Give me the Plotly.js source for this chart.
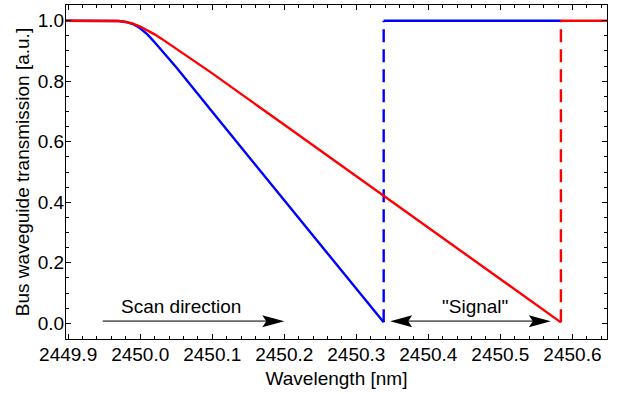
<!DOCTYPE html>
<html>
<head>
<meta charset="utf-8">
<script src="https://cdn.plot.ly/plotly-3.0.1.min.js"></script>
<style>html,body{margin:0;padding:0;background:#fff;}#chart{width:624px;height:394px;}</style>
</head>
<body>
<div id="chart"></div>
<script>
// Blue: scan curve (forward scan), drop then jump back
const blueX = [2449.897, 2449.96, 2449.97, 2449.98, 2449.99, 2450.00, 2450.01, 2450.02, 2450.03, 2450.04, 2450.05, 2450.10, 2450.20, 2450.30, 2450.338];
const blueY = [1.000, 1.000, 0.999, 0.996, 0.989, 0.975, 0.955, 0.929, 0.902, 0.874, 0.846, 0.699, 0.405, 0.112, 0.003];
const blueJumpX = [2450.338, 2450.338];
const blueJumpY = [0.003, 1.000];
const blueFlatX = [2450.338, 2450.584];
const blueFlatY = [1.000, 1.000];

// Red: scan curve
const redX = [2449.897, 2449.96, 2449.97, 2449.98, 2449.99, 2450.00, 2450.01, 2450.02, 2450.03, 2450.04, 2450.05, 2450.10, 2450.20, 2450.30, 2450.40, 2450.50, 2450.584];
const redY = [1.000, 1.000, 0.999, 0.996, 0.990, 0.981, 0.969, 0.955, 0.940, 0.924, 0.908, 0.826, 0.656, 0.486, 0.316, 0.147, 0.003];
const redJumpX = [2450.584, 2450.584];
const redJumpY = [0.003, 1.000];
const redFlatX = [2450.584, 2450.648];
const redFlatY = [1.000, 1.000];

// Annotations
const labelTexts = ['Scan direction', '"Signal"'];
const labelX = [2450.057, 2450.465];
const labelY = [0.055, 0.055];
const arrowY = 0.007;
const scanArrowX = [2449.948, 2450.200];   // tail, tip
const signalArrowX = [2450.347, 2450.570]; // left tip, right tip

const xRange = [2449.897, 2450.648];
const yRange = [-0.052, 1.052];

const FONT = 'Liberation Sans, Arial, sans-serif';
const FS = 19;
const BLUE = '#0000ff', RED = '#ff0000';
const LW = 2.4;

const traces = [
  {x: blueX, y: blueY, mode: 'lines', line: {color: BLUE, width: LW}, hoverinfo: 'skip'},
  {x: blueJumpX, y: blueJumpY, mode: 'lines', line: {color: BLUE, width: LW, dash: '13px,7px'}, hoverinfo: 'skip'},
  {x: blueFlatX, y: blueFlatY, mode: 'lines', line: {color: BLUE, width: LW}, hoverinfo: 'skip'},
  {x: redX, y: redY, mode: 'lines', line: {color: RED, width: LW}, hoverinfo: 'skip'},
  {x: redJumpX, y: redJumpY, mode: 'lines', line: {color: RED, width: LW, dash: '13px,7px'}, hoverinfo: 'skip'},
  {x: redFlatX, y: redFlatY, mode: 'lines', line: {color: RED, width: LW}, hoverinfo: 'skip'}
];

const headR = 'M0,0L-22,6L-18,0L-22,-6Z';
const headL = 'M0,0L22,6L18,0L22,-6Z';
const GRAY = '#666666';

const shapes = [
  {type: 'line', xref: 'x', yref: 'y', x0: scanArrowX[0], x1: scanArrowX[1] - 0.02, y0: arrowY, y1: arrowY, line: {color: GRAY, width: 1.6}},
  {type: 'path', xref: 'x', yref: 'y', xsizemode: 'pixel', ysizemode: 'pixel', xanchor: scanArrowX[1], yanchor: arrowY, path: headR, fillcolor: '#000', line: {width: 0}},
  {type: 'line', xref: 'x', yref: 'y', x0: signalArrowX[0] + 0.02, x1: signalArrowX[1] - 0.02, y0: arrowY, y1: arrowY, line: {color: GRAY, width: 1.6}},
  {type: 'path', xref: 'x', yref: 'y', xsizemode: 'pixel', ysizemode: 'pixel', xanchor: signalArrowX[0], yanchor: arrowY, path: headL, fillcolor: '#000', line: {width: 0}},
  {type: 'path', xref: 'x', yref: 'y', xsizemode: 'pixel', ysizemode: 'pixel', xanchor: signalArrowX[1], yanchor: arrowY, path: headR, fillcolor: '#000', line: {width: 0}}
];

const annotations = labelTexts.map((t, i) => ({
  x: labelX[i], y: labelY[i], xref: 'x', yref: 'y', text: t, showarrow: false,
  font: {family: FONT, size: FS, color: '#000'}, xanchor: 'center', yanchor: 'middle'
}));

const axisCommon = {
  showgrid: false, zeroline: false, showline: true, linecolor: '#000', linewidth: 1,
  mirror: 'allticks', ticks: 'inside', ticklen: 5, tickwidth: 1, tickcolor: '#000',
  tickfont: {family: FONT, size: FS, color: '#000'}
};

const layout = {
  width: 624, height: 394,
  margin: {l: 66, r: 17, t: 5, b: 55},
  paper_bgcolor: '#fff', plot_bgcolor: '#fff',
  showlegend: false,
  xaxis: Object.assign({}, axisCommon, {
    range: xRange, dtick: 0.1, tick0: 2449.9, tickformat: '.1f', ticklabelstandoff: -2,
    minor: {dtick: 0.02, tick0: 2449.9, ticks: 'inside', ticklen: 3, tickcolor: '#000', showgrid: false},
    title: {text: 'Wavelength [nm]', font: {family: FONT, size: FS, color: '#000'}, standoff: 7}
  }),
  yaxis: Object.assign({}, axisCommon, {
    range: yRange, dtick: 0.2, tick0: 0, tickformat: '.1f', ticklabelstandoff: -3,
    minor: {dtick: 0.05, tick0: 0, ticks: 'inside', ticklen: 3, tickcolor: '#000', showgrid: false},
    title: {text: 'Bus waveguide transmission [a.u.]', font: {family: FONT, size: FS, color: '#000'}, standoff: 3}
  }),
  shapes: shapes,
  annotations: annotations
};

Plotly.newPlot('chart', traces, layout, {displayModeBar: false, staticPlot: true});
</script>
</body>
</html>
